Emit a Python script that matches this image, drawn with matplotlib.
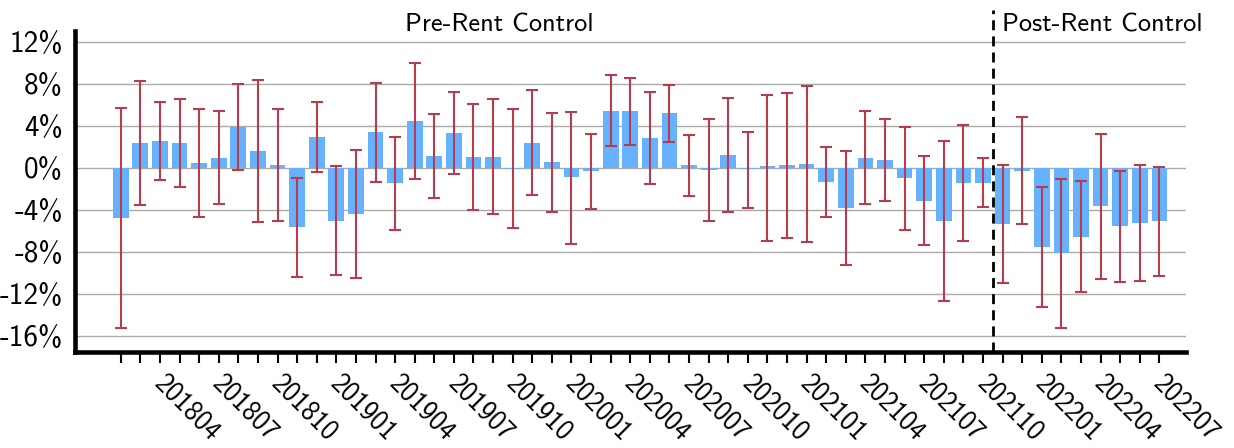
import numpy as np
import matplotlib
matplotlib.use('Agg')
import matplotlib.pyplot as plt
import matplotlib.transforms as mtransforms

# font: computer modern sans like the original
plt.rcParams['font.family'] = ['cmss10', 'DejaVu Sans']
plt.rcParams['axes.unicode_minus'] = False
plt.rcParams['axes.formatter.use_mathtext'] = True

# months 201802 .. 202207
months = ['201802', '201803', '201804', '201805', '201806', '201807', '201808', '201809',
          '201810', '201811', '201812', '201901', '201902', '201903', '201904', '201905',
          '201906', '201907', '201908', '201909', '201910', '201911', '201912', '202001',
          '202002', '202003', '202004', '202005', '202006', '202007', '202008', '202009',
          '202010', '202011', '202012', '202101', '202102', '202103', '202104', '202105',
          '202106', '202107', '202108', '202109', '202110', '202111', '202112', '202201',
          '202202', '202203', '202204', '202205', '202206', '202207']
labelled = ['201804', '201807', '201810', '201901', '201904', '201907', '201910', '202001',
            '202004', '202007', '202010', '202101', '202104', '202107', '202110', '202201',
            '202204', '202207']

# estimate (%) and confidence interval bounds
estimate = [-4.76, 2.32, 2.54, 2.35, 0.44, 0.92, 3.90, 1.59, 0.25, -5.68, 2.92, -5.04,
            -4.38, 3.36, -1.49, 4.41, 1.11, 3.27, 1.01, 1.05, -0.16, 2.35, 0.51, -0.92,
            -0.35, 5.42, 5.39, 2.82, 5.17, 0.22, -0.25, 1.21, -0.16, 0.16, 0.25, 0.35,
            -1.33, -3.81, 0.92, 0.70, -1.01, -3.14, -5.04, -1.49, -1.43, -5.33, -0.29,
            -7.52, -8.15, -6.57, -3.68, -5.58, -5.23, -5.07]
ci_high = [5.71, 8.28, 6.25, 6.57, 5.58, 5.36, 7.93, 8.37, 5.58, -0.98, 6.28, 0.16,
           1.65, 8.09, 2.92, 9.96, 5.11, 7.20, 6.09, 6.50, 5.61, 7.39, 5.20, 5.33,
           3.20, 8.79, 8.59, 7.20, 7.90, 3.11, 4.63, 6.66, 3.39, 6.88, 7.14, 7.83,
           2.00, 1.62, 5.42, 4.66, 3.90, 1.11, 2.57, 4.03, 0.92, 0.25, 4.79,
           -1.84, -1.05, -1.27, 3.24, -0.32, 0.29, 0.10]
ci_low = [-15.29, -3.55, -1.17, -1.84, -4.66, -3.46, -0.19, -5.17, -5.07, -10.40, -0.41, -10.24,
          -10.47, -1.33, -5.93, -1.05, -2.89, -0.63, -4.06, -4.38, -5.77, -2.57, -4.19, -7.23,
          -3.93, 2.06, 2.19, -1.52, 2.44, -2.70, -5.11, -4.19, -3.81, -6.95, -6.72, -7.10,
          -4.66, -9.26, -3.46, -3.17, -5.93, -7.39, -12.69, -6.98, -3.71, -10.94, -5.39,
          -13.26, -15.22, -11.83, -10.62, -10.85, -10.75, -10.28]

policy_month = '202110'   # line is drawn after this month
yticks = [-16, -12, -8, -4, 0, 4, 8, 12]

est = np.array(estimate)
lo = np.abs(est - np.array(ci_low))
hi = np.abs(np.array(ci_high) - est)
x = np.arange(len(months))

fig = plt.figure(figsize=(12.34, 4.48), dpi=100)
ax = fig.add_axes([0.061, 0.2143, 0.9, 0.7165])

ax.yaxis.grid(True, color='#aaaaaa', linewidth=1.0, zorder=0)
ax.set_axisbelow(True)

ax.bar(x, est, width=0.8, color='#66b2ff', zorder=2)
ax.errorbar(x, est, yerr=[lo, hi], fmt='none', ecolor='#b83c4b', elinewidth=1.5,
            capsize=4, capthick=1.5, zorder=3)

# pre / post split
xcut = months.index(policy_month) + 0.5
ax.axvline(xcut, ymin=0, ymax=1.065, color='black', linewidth=2.0,
           linestyle=(0, (3.6, 2.2)), clip_on=False, zorder=4)
ax.text(19.3, 13.6, 'Pre-Rent Control', ha='center', va='center', fontsize=19)
ax.text(xcut + 0.45, 13.6, 'Post-Rent Control', ha='left', va='center', fontsize=19)

ax.set_xlim(-2.32, 54.35)
ax.set_ylim(-17.54, 13.02)

ax.set_yticks(yticks)
ax.set_yticklabels([f'{v}%' for v in yticks], fontsize=21)
ax.tick_params(axis='y', length=0, pad=9)

ax.set_xticks(x)
ax.set_xticklabels([m if m in labelled else '' for m in months], fontsize=19.5,
                   rotation=-45, ha='left', va='top', rotation_mode='anchor')
ax.tick_params(axis='x', direction='out', length=8, width=1.5, pad=5)
shift = mtransforms.ScaledTranslation(0.07, 0, fig.dpi_scale_trans)
for lab in ax.get_xticklabels():
    lab.set_transform(lab.get_transform() + shift)

for side in ['top', 'right']:
    ax.spines[side].set_visible(False)
for side in ['left', 'bottom']:
    ax.spines[side].set_linewidth(3.3)

fig.savefig('out.png', dpi=100)
